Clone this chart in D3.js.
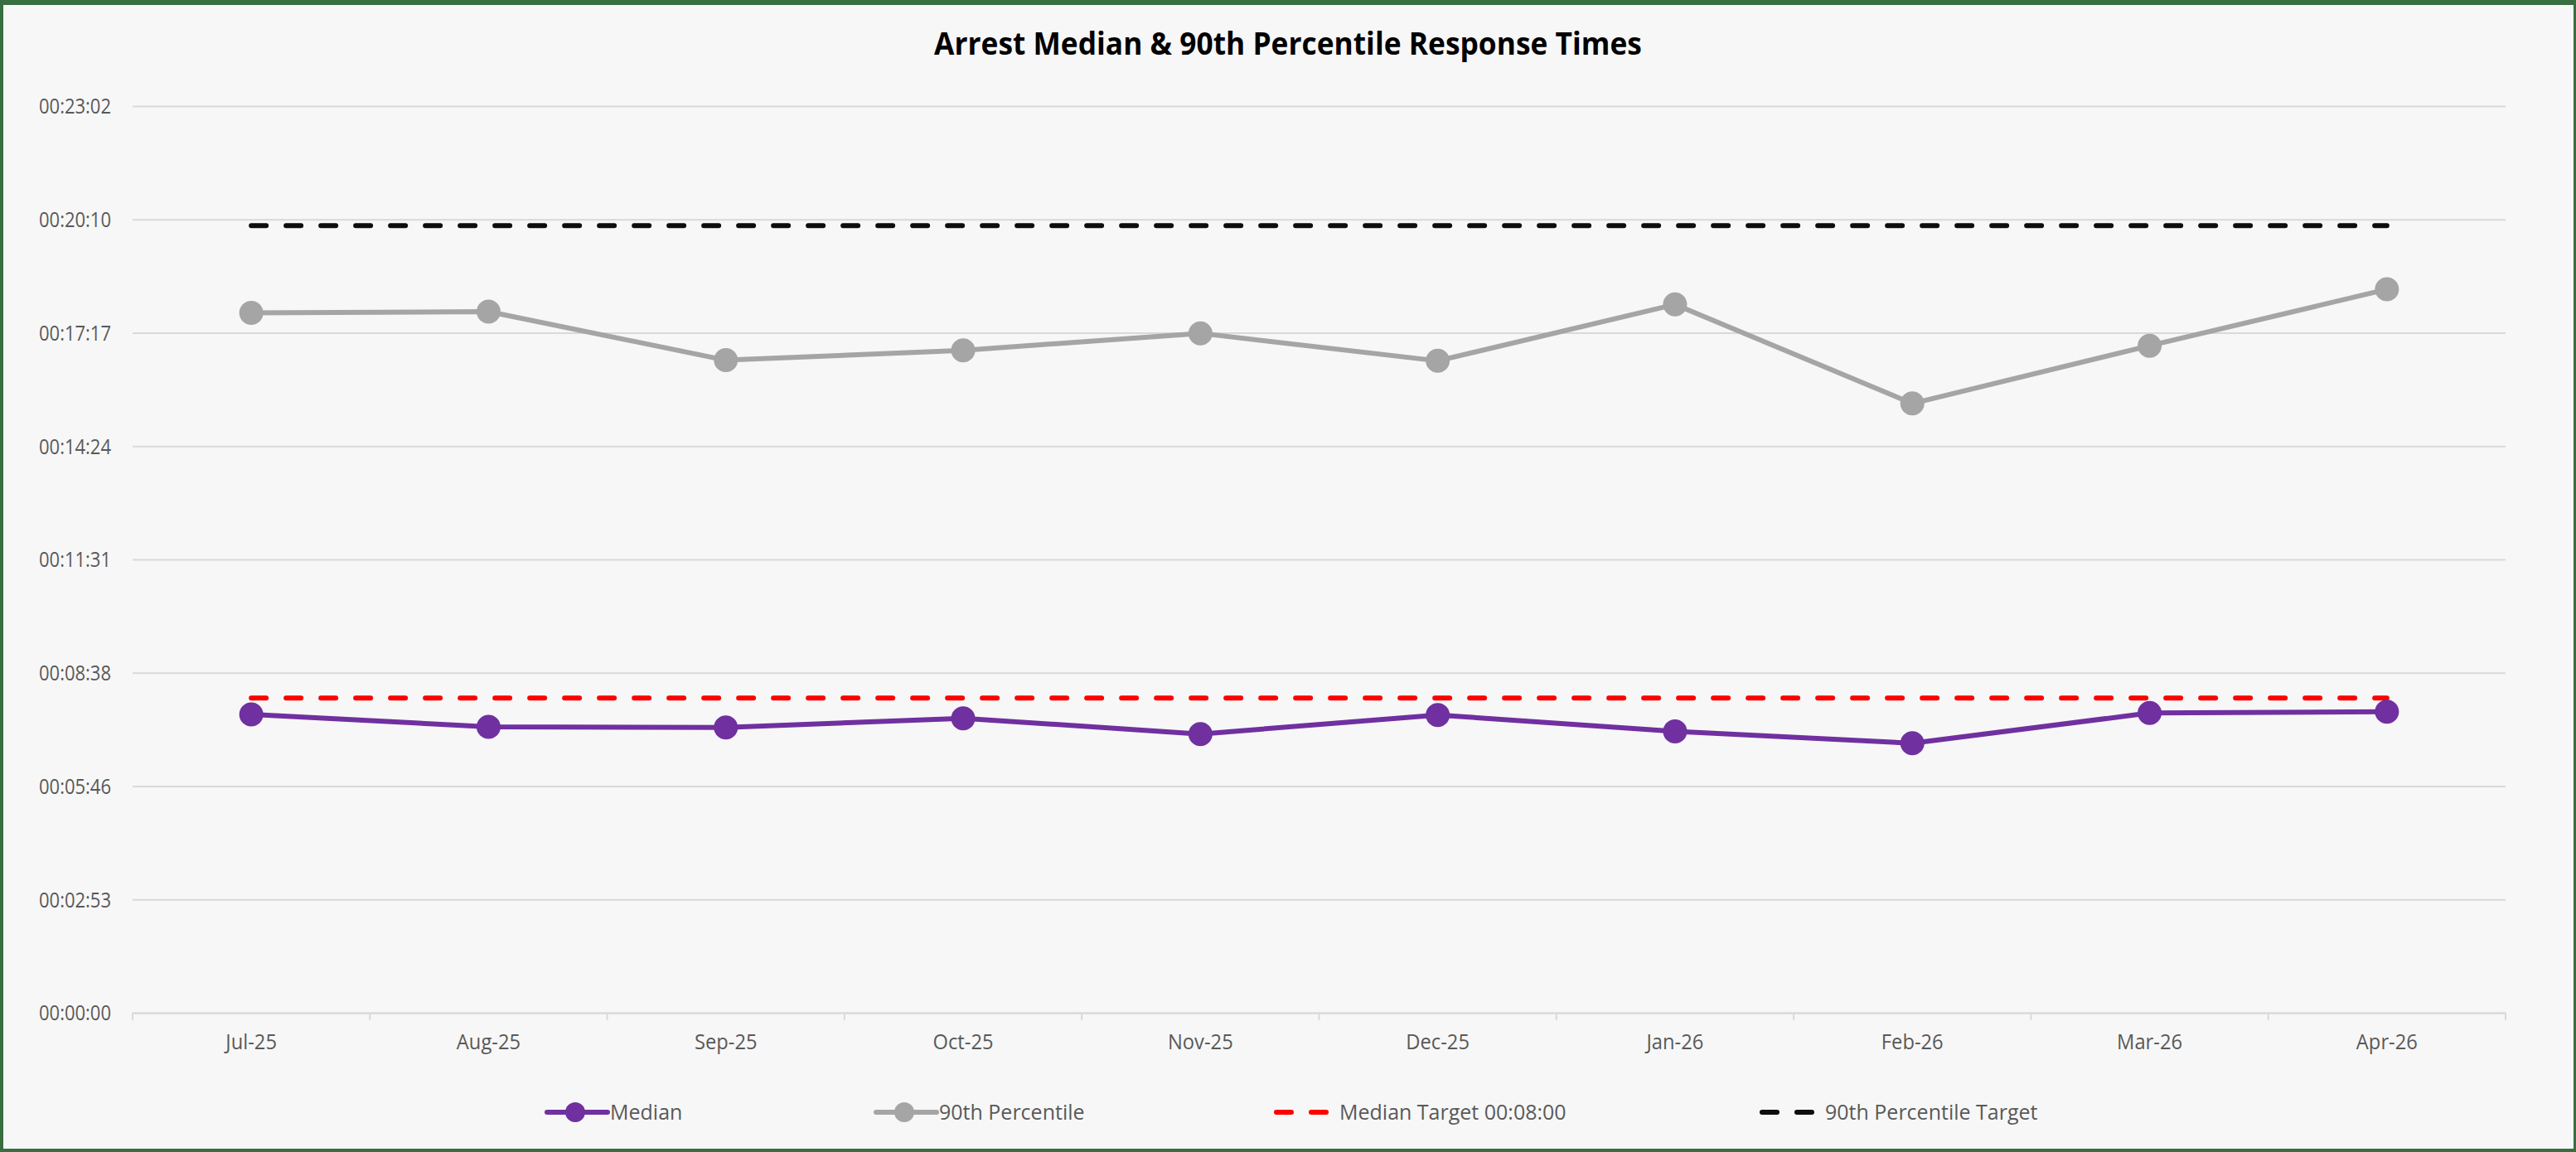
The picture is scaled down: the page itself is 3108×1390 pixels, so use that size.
<!DOCTYPE html>
<html>
<head>
<meta charset="utf-8">
<script src="https://cdn.jsdelivr.net/npm/d3@7"></script>
<style>
  html, body { margin: 0; padding: 0; background: #f7f7f7; }
  svg { display: block; }
</style>
</head>
<body>
<svg id="chart"></svg>
<script>
// Monthly arrest response times (hh:mm:ss)
const categories = ["Jul-25", "Aug-25", "Sep-25", "Oct-25", "Nov-25", "Dec-25", "Jan-26", "Feb-26", "Mar-26", "Apr-26"];
const medianTimes = ["00:07:35", "00:07:16", "00:07:15", "00:07:29", "00:07:05", "00:07:34", "00:07:09", "00:06:51", "00:07:37", "00:07:39"];
const p90Times = ["00:17:47", "00:17:49", "00:16:35", "00:16:50", "00:17:16", "00:16:34", "00:18:00", "00:15:29", "00:16:57", "00:18:23"];
const medianTargetTime = "00:08:00";
const p90TargetTime = "00:20:00";

// Value axis: major unit of 0.002 days (172.8 s)
const yTickSeconds = [0, 172.8, 345.6, 518.4, 691.2, 864, 1036.8, 1209.6, 1382.4];
const yTickLabels = ["00:00:00", "00:02:53", "00:05:46", "00:08:38", "00:11:31", "00:14:24", "00:17:17", "00:20:10", "00:23:02"];

const legendLabels = ["Median", "90th Percentile", "Median Target 00:08:00", "90th Percentile Target"];
const titleText = "Arrest Median & 90th Percentile Response Times";

const toSeconds = s => { const [h, m, sec] = s.split(":").map(Number); return h * 3600 + m * 60 + sec; };
const medianSeconds = medianTimes.map(toSeconds);
const p90Seconds = p90Times.map(toSeconds);
const medianTarget = toSeconds(medianTargetTime);
const p90Target = toSeconds(p90TargetTime);

const W = 3108, H = 1390;
const plot = { left: 160, right: 3023, top: 128, bottom: 1222 };
const FONT = "'Open Sans', 'Noto Sans', sans-serif";
const TEXT = "#595959";
const GRID = "#d9d9d9";
const PURPLE = "#7030a0", GREY = "#a5a5a5", RED = "#ff0000", BLACK = "#0d0d0d";

const svg = d3.select("#chart").attr("width", W).attr("height", H);

// background and frame
svg.append("rect").attr("width", W).attr("height", H).attr("fill", "#f7f7f7");
const frame = "#386e40";
svg.append("rect").attr("x", 0).attr("y", 0).attr("width", W).attr("height", 6).attr("fill", frame);
svg.append("rect").attr("x", 0).attr("y", 0).attr("width", 4).attr("height", H).attr("fill", frame);
svg.append("rect").attr("x", 0).attr("y", H - 4).attr("width", W).attr("height", 4).attr("fill", frame);
svg.append("rect").attr("x", W - 3).attr("y", 0).attr("width", 3).attr("height", H).attr("fill", frame);

const x = d3.scaleBand().domain(categories).range([plot.left, plot.right]);
const cx = c => x(c) + x.bandwidth() / 2;
const y = d3.scaleLinear().domain([0, yTickSeconds[yTickSeconds.length - 1]]).range([plot.bottom, plot.top]);

// horizontal squeeze for text, keeping the anchor point fixed
function squeeze(sel, sx) {
  sel.each(function () {
    const t = d3.select(this);
    const tx = +t.attr("x") || 0, ty = +t.attr("y") || 0;
    t.attr("x", null).attr("y", null)
     .attr("transform", `translate(${tx},${ty}) scale(${sx},1)`);
  });
}

// title
svg.append("text")
  .attr("x", W / 2).attr("y", 66)
  .attr("text-anchor", "middle")
  .attr("font-family", FONT).attr("font-weight", 700).attr("font-size", 38)
  .attr("fill", "#000")
  .text(titleText)
  .call(squeeze, 0.93);

// value axis with gridlines
const yAxis = d3.axisLeft(y)
  .tickValues(yTickSeconds)
  .tickFormat((d, i) => yTickLabels[i])
  .tickSize(-(plot.right - plot.left))
  .tickPadding(26);
const yg = svg.append("g").attr("transform", `translate(${plot.left},0)`).call(yAxis);
yg.select(".domain").remove();
yg.selectAll(".tick line").attr("stroke", GRID).attr("stroke-width", 2);
yg.selectAll(".tick text")
  .attr("fill", TEXT).attr("font-family", FONT).attr("font-size", 25)
  .attr("dy", "0.35em")
  .call(squeeze, 0.88);

// category axis
const xAxis = d3.axisBottom(x).tickSize(0).tickPadding(26);
const xg = svg.append("g").attr("transform", `translate(0,${plot.bottom})`).call(xAxis);
xg.select(".domain").attr("stroke", GRID).attr("stroke-width", 2);
xg.selectAll(".tick text")
  .attr("fill", TEXT).attr("font-family", FONT).attr("font-size", 25)
  .attr("dy", "0.71em")
  .call(squeeze, 0.95);
// tick marks between categories
const edges = categories.map(c => x(c)).concat([plot.right]);
svg.append("g").selectAll("line").data(edges).join("line")
  .attr("x1", d => d).attr("x2", d => d)
  .attr("y1", plot.bottom).attr("y2", plot.bottom + 9)
  .attr("stroke", GRID).attr("stroke-width", 2);

// target lines
const first = categories[0], last = categories[categories.length - 1];
function targetLine(value, color) {
  svg.append("line")
    .attr("x1", cx(first)).attr("x2", cx(last))
    .attr("y1", y(value)).attr("y2", y(value))
    .attr("stroke", color).attr("stroke-width", 6)
    .attr("stroke-linecap", "round")
    .attr("stroke-dasharray", "18,24");
}
targetLine(p90Target, BLACK);
targetLine(medianTarget, RED);

// series
const line = d3.line().x(d => cx(d.c)).y(d => y(d.v));
function series(values, color) {
  const pts = categories.map((c, i) => ({ c, v: values[i] }));
  svg.append("path").datum(pts)
    .attr("d", line)
    .attr("fill", "none").attr("stroke", color).attr("stroke-width", 6)
    .attr("stroke-linejoin", "round").attr("stroke-linecap", "round");
  svg.append("g").selectAll("circle").data(pts).join("circle")
    .attr("cx", d => cx(d.c)).attr("cy", d => y(d.v)).attr("r", 14.5)
    .attr("fill", color);
}
series(p90Seconds, GREY);
series(medianSeconds, PURPLE);

// legend
const legendY = 1342;
const legendStarts = [657, 1054, 1537, 2123];
const legendStyles = [
  { color: PURPLE, marker: true, dash: null },
  { color: GREY, marker: true, dash: null },
  { color: RED, marker: false, dash: "18,24" },
  { color: BLACK, marker: false, dash: "18,24" }
];
const lg = svg.append("g");
legendLabels.forEach((label, i) => {
  const x0 = legendStarts[i], st = legendStyles[i];
  lg.append("line")
    .attr("x1", x0 + 3).attr("x2", x0 + 76)
    .attr("y1", legendY).attr("y2", legendY)
    .attr("stroke", st.color).attr("stroke-width", 6)
    .attr("stroke-linecap", "round")
    .attr("stroke-dasharray", st.dash);
  if (st.marker) {
    lg.append("circle").attr("cx", x0 + 37).attr("cy", legendY).attr("r", 12).attr("fill", st.color);
  }
  lg.append("text")
    .attr("x", x0 + 79).attr("y", legendY)
    .attr("dy", "0.35em")
    .attr("fill", TEXT).attr("font-family", FONT).attr("font-size", 25)
    .text(label)
    .call(squeeze, 1.0);
});
</script>
</body>
</html>
